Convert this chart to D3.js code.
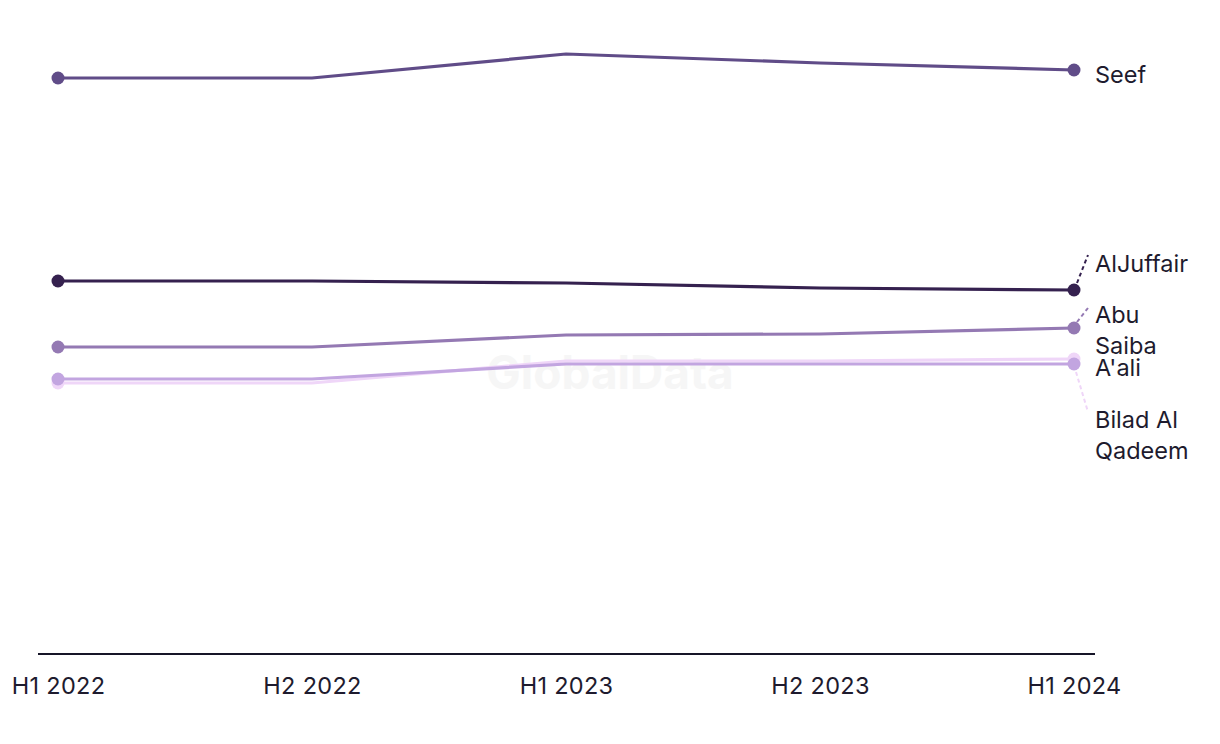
<!DOCTYPE html>
<html><head><meta charset="utf-8">
<script src="https://cdn.jsdelivr.net/npm/d3@7"></script>
<style>body{margin:0;background:#fff;} svg{display:block;font-family:Inter, "Liberation Sans", sans-serif;}</style>
</head><body>
<svg id="chart" width="1220" height="744"></svg>
<script>
const periods = ["H1 2022","H2 2022","H1 2023","H2 2023","H1 2024"];
const seef = [576, 576, 600, 591, 584];
const alJuffair = [373, 373, 371, 366, 364];
const abuSaiba = [307, 307, 319, 320, 326];
const aali = [275, 275, 290, 290, 290];
const biladAlQadeem = [271, 271, 293, 293, 295];

const series = [
  {name:"Bilad Al Qadeem", values: biladAlQadeem, color:"#efd6f8", label:["Bilad Al","Qadeem"], ly:420, leader:[[1076,372],[1088,412]]},
  {name:"A'ali", values: aali, color:"#c2a5e0", label:["A'ali"], ly:368, leader:null},
  {name:"Abu Saiba", values: abuSaiba, color:"#9479b3", label:["Abu","Saiba"], ly:315, leader:[[1077,322],[1088,308]]},
  {name:"AlJuffair", values: alJuffair, color:"#35214f", label:["AlJuffair"], ly:264, leader:[[1077,283],[1088,255]]},
  {name:"Seef", values: seef, color:"#604c88", label:["Seef"], ly:75, leader:null}
];

const svg = d3.select("#chart");
const x = d3.scalePoint().domain(periods).range([58,1074]);
const y = d3.scaleLinear().domain([0,600]).range([654,54]);

// watermark
svg.append("text").attr("x",610).attr("y",389).attr("text-anchor","middle")
  .attr("font-size",46).attr("font-weight","bold").attr("fill","#f6f6f6").text("GlobalData");

// axis
const axis = d3.axisBottom(x).tickSize(0).tickPadding(23);
const gx = svg.append("g").attr("transform","translate(0,654)").call(axis);
gx.select(".domain").remove();
gx.selectAll("text").attr("font-size",23.5).attr("letter-spacing","0.3px").attr("fill","#1e1b2e").attr("font-family","Inter, 'Liberation Sans', sans-serif");
svg.append("line").attr("x1",38).attr("x2",1095).attr("y1",654).attr("y2",654)
  .attr("stroke","#161528").attr("stroke-width",2);

const line = d3.line().x((d,i)=>x(periods[i])).y(d=>y(d));

series.forEach(s=>{
  svg.append("path").datum(s.values).attr("d",line).attr("fill","none")
    .attr("stroke",s.color).attr("stroke-width",3.2);
  [0, s.values.length-1].forEach(i=>{
    svg.append("circle").attr("cx",x(periods[i])).attr("cy",y(s.values[i])).attr("r",6.5).attr("fill",s.color);
  });
  if (s.leader){
    svg.append("line").attr("x1",s.leader[0][0]).attr("y1",s.leader[0][1])
      .attr("x2",s.leader[1][0]).attr("y2",s.leader[1][1])
      .attr("stroke",s.color).attr("stroke-width",2).attr("stroke-dasharray","4,3");
  }
  const t = svg.append("text").attr("x",1095).attr("y",s.ly).attr("dy","0.35em")
    .attr("font-size",23.5).attr("fill","#1e1b2e");
  s.label.forEach((l,k)=>{
    t.append("tspan").attr("x",1095).attr("dy", k===0 ? "0.35em" : 31).text(l);
  });
});
</script>
</body></html>
